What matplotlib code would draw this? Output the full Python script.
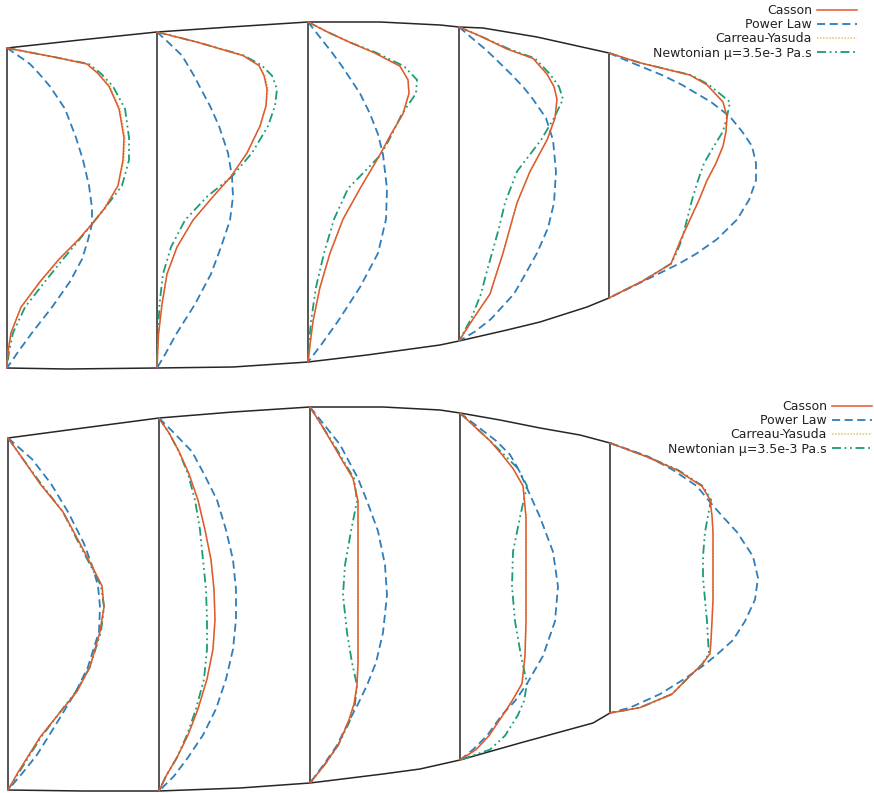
import matplotlib
matplotlib.use("Agg")
import matplotlib.pyplot as plt
import numpy as np

# ---------------- geometry of the two vessel panels (px-scale units, y down) ----
# upper panel
up_sections = [7, 157, 308, 459, 609]
up_top_x = [7, 80, 157, 230, 308, 380, 440, 459, 483, 537, 573, 609]
up_top_y = [48, 40, 32, 27, 22, 22, 25, 27, 28, 37, 45, 53]
up_bot_x = [7, 67, 157, 233, 308, 367, 440, 459, 507, 540, 587, 609]
up_bot_y = [368, 369, 368, 367, 362, 355, 345, 341, 330, 322, 307, 298]

# lower panel
lo_sections = [8, 159, 310, 460, 610]
lo_top_x = [8, 83, 159, 233, 310, 383, 440, 460, 500, 540, 580, 610]
lo_top_y = [438, 428, 418, 412, 407, 407, 410, 413, 420, 428, 435, 443]
lo_bot_x = [8, 83, 159, 240, 310, 383, 420, 460, 520, 593, 610]
lo_bot_y = [790, 791, 791, 788, 783, 774, 769, 760, 743, 723, 713]

# ---------------- velocity profiles: position along section (0 = top) ----------
up_s = [
    [0, 0.03, 0.05, 0.08, 0.12, 0.19, 0.28, 0.35, 0.43, 0.5, 0.55, 0.6, 0.66, 0.73, 0.81, 0.89, 0.95, 1],
    [0, 0.03, 0.07, 0.1, 0.13, 0.17, 0.22, 0.28, 0.36, 0.43, 0.49, 0.56, 0.64, 0.72, 0.81, 0.9, 0.96, 1],
    [0, 0.03, 0.06, 0.09, 0.13, 0.17, 0.21, 0.27, 0.33, 0.39, 0.49, 0.58, 0.68, 0.78, 0.88, 0.95, 1],
    [0, 0.03, 0.07, 0.1, 0.15, 0.19, 0.23, 0.29, 0.36, 0.46, 0.56, 0.64, 0.72, 0.8, 0.85, 0.93, 0.97, 1],
    [0, 0.04, 0.09, 0.13, 0.2, 0.26, 0.32, 0.38, 0.45, 0.52, 0.6, 0.68, 0.76, 0.82, 0.86, 0.93, 1],
]
up_casson = [
    [0, 50, 80, 91, 102, 112, 117, 116, 111, 98, 85, 71, 52, 33, 14, 4, 1, 0],
    [0, 40, 86, 102, 107, 110, 109, 103, 90, 74, 56, 36, 20, 10, 5, 1.5, 0.5, 0],
    [0, 20, 42, 66, 92, 100, 101, 95, 83, 72, 52, 35, 22, 12, 5, 2, 0],
    [0, 22, 48, 74, 88, 95, 98, 96, 88, 71, 58, 51, 44, 36, 31, 14, 6, 0],
    [0, 31, 81, 98, 114, 118, 117, 114, 107, 98, 90, 81, 72, 66, 62, 34, 0],
]
up_power = [
    [0, 14, 23, 32, 43, 58, 69, 76, 82, 85, 85, 81, 75, 63, 45, 25, 11, 0],
    [0, 11, 25, 31, 37, 44, 53, 62, 71, 75, 76, 73, 64, 54, 38, 19, 8, 0],
    [0, 8, 16, 24, 34, 43, 52, 62, 70, 75, 79, 78, 70, 52, 30, 13, 0],
    [0, 11, 26, 36, 52, 64, 74, 87, 94, 97, 95, 89, 78, 64, 55, 32, 16, 0],
    [0, 23, 53, 73, 102, 121, 133, 143, 147, 147, 140, 128, 108, 87, 70, 35, 0],
]
up_carreau = [
    [0, 50, 80, 92, 103, 113, 118, 117, 111, 97, 85, 71, 53, 34, 14, 4, 1, 0],
    [0, 40, 86, 102, 108, 111, 109, 103, 90, 74, 56, 36, 20, 10, 5, 1.5, 0.5, 0],
    [0, 20, 42, 66, 92, 100, 101, 95, 83, 72, 52, 35, 22, 12, 5, 2, 0],
    [0, 22, 48, 74, 88, 95, 98, 96, 88, 71, 58, 51, 44, 36, 31, 14, 6, 0],
    [0, 31, 81, 98, 114, 118, 117, 114, 107, 98, 90, 81, 72, 66, 62, 34, 0],
]
up_newton = [
    [0, 50, 82, 94, 106, 118, 122, 122, 115, 98, 85, 72, 56, 38, 18, 6, 2, 0],
    [0, 40, 87, 105, 115, 120, 118, 111, 95, 75, 50, 28, 14, 6, 2.5, 1, 0.3, 0],
    [0, 20, 42, 68, 96, 109, 108, 94, 84, 73, 40, 26, 16, 8, 3, 1, 0],
    [0, 22, 50, 76, 91, 100, 104, 95, 82, 58, 46, 40, 33, 26, 22, 12, 5, 0],
    [0, 31, 82, 100, 121, 118, 114, 105, 95, 89, 83, 78, 73, 67, 62, 34, 0],
]

lo_s = [
    [0, 0.06, 0.13, 0.21, 0.3, 0.37, 0.42, 0.48, 0.55, 0.65, 0.72, 0.79, 0.85, 0.9, 0.95, 1],
    [0, 0.04, 0.09, 0.15, 0.22, 0.3, 0.38, 0.46, 0.54, 0.62, 0.7, 0.78, 0.85, 0.91, 0.96, 1],
    [0, 0.05, 0.1, 0.15, 0.19, 0.25, 0.33, 0.42, 0.5, 0.6, 0.68, 0.74, 0.79, 0.84, 0.9, 0.95, 1],
    [0, 0.04, 0.08, 0.12, 0.16, 0.21, 0.3, 0.4, 0.5, 0.6, 0.7, 0.78, 0.83, 0.87, 0.93, 0.97, 1],
    [0, 0.05, 0.1, 0.16, 0.21, 0.27, 0.33, 0.42, 0.5, 0.58, 0.66, 0.73, 0.78, 0.82, 0.87, 0.93, 0.98, 1],
]
lo_casson = [
    [0, 15, 32, 55, 72, 85, 94, 96, 92, 82, 69, 49, 32, 21, 10, 0],
    [0, 10, 20, 30, 39, 46, 52, 55, 56, 54, 48, 39, 29, 18, 7, 0],
    [0, 12, 23, 34, 43, 48, 48, 48, 48, 48, 48, 47, 44, 38, 28, 15, 0],
    [0, 15, 30, 42, 53, 63, 66, 66, 66, 66, 65, 62, 52, 43, 29, 16, 0],
    [0, 36, 67, 92, 100, 102, 103, 103, 103, 103, 102, 101, 100, 92, 78, 62, 30, 0],
]
lo_power = [
    [0, 24, 43, 60, 76, 85, 90, 92, 91, 80, 68, 53, 40, 29, 15, 0],
    [0, 15, 33, 45, 58, 67, 74, 77, 77, 74, 67, 57, 44, 29, 15, 0],
    [0, 15, 30, 40, 48, 57, 68, 75, 77, 73, 66, 57, 48, 38, 27, 14, 0],
    [0, 18, 36, 50, 58, 66, 80, 93, 98, 95, 83, 67, 55, 42, 27, 13, 0],
    [0, 38, 63, 87, 98, 112, 127, 143, 148, 145, 135, 123, 108, 95, 76, 50, 20, 0],
]
lo_carreau = [
    [0, 15, 32, 55, 72, 85, 94, 96, 92, 82, 69, 49, 32, 21, 10, 0],
    [0, 10, 20, 30, 39, 46, 52, 55, 56, 54, 48, 39, 29, 18, 7, 0],
    [0, 12, 23, 34, 43, 48, 48, 48, 48, 48, 48, 47, 44, 38, 28, 15, 0],
    [0, 15, 30, 42, 53, 63, 66, 66, 66, 66, 65, 62, 52, 43, 29, 16, 0],
    [0, 36, 67, 92, 100, 102, 103, 103, 103, 103, 102, 101, 100, 92, 78, 62, 30, 0],
]
lo_newton = [
    [0, 15, 33, 55, 71, 84, 93, 96, 93, 82, 68, 49, 33, 22, 11, 0],
    [0, 10, 20, 29, 36, 41, 44, 47, 48, 48, 45, 37, 28, 18, 7, 0],
    [0, 12, 24, 35, 44, 47, 41, 35, 33, 37, 42, 47, 45, 39, 28, 15, 0],
    [0, 15, 30, 44, 58, 67, 60, 53, 52, 55, 61, 67, 64, 58, 45, 30, 0],
    [0, 37, 68, 93, 101, 98, 95, 93, 93, 95, 97, 98, 99, 92, 78, 62, 30, 0],
]

labels = ["Casson", "Power Law", "Carreau-Yasuda", "Newtonian \u03bc=3.5e-3 Pa.s"]

# ---------------- styles ----------------
WALL = "#262626"
styles = {
    "carreau": dict(color="#e2c36e", lw=1.1, ls=(0, (1, 1)), zorder=3),
    "newton": dict(color="#1b9c76", lw=1.3, ls=(0, (5, 2, 1, 2, 1, 2)), zorder=4),
    "power": dict(color="#2f7dbb", lw=1.3, ls=(0, (4.5, 2.5)), zorder=5),
    "casson": dict(color="#e0592e", lw=1.1, ls="-", zorder=6),
}

W, H = 874, 793
fig = plt.figure(figsize=(W / 100, H / 100), dpi=100)
fig.patch.set_facecolor("white")


def draw_panel(ax, sections, tx, ty, bx, by, s_list, models):
    ax.plot(tx, ty, color=WALL, lw=1.1, zorder=2, solid_capstyle="butt")
    ax.plot(bx, by, color=WALL, lw=1.1, zorder=2, solid_capstyle="butt")
    handles = {}
    for i, xs in enumerate(sections):
        yt = np.interp(xs, tx, ty)
        yb = np.interp(xs, bx, by)
        ax.plot([xs, xs], [yt, yb], color=WALL, lw=1.1, zorder=2)
        s = np.asarray(s_list[i], dtype=float)
        y = yt + s * (yb - yt)
        for key, vals in models.items():
            u = np.asarray(vals[i], dtype=float)
            (h,) = ax.plot(xs + u, y, **styles[key])
            handles[key] = h
    return handles


def finish(ax, ylo, yhi):
    ax.set_xlim(0, W)
    ax.set_ylim(yhi, ylo)
    ax.axis("off")


ax_top = fig.add_axes([0, 1 - 396 / H, 1, 396 / H])
ax_bot = fig.add_axes([0, 0, 1, 397 / H])

order = ["casson", "power", "carreau", "newton"]

h_top = draw_panel(ax_top, up_sections, up_top_x, up_top_y, up_bot_x, up_bot_y, up_s,
                   {"carreau": up_carreau, "newton": up_newton,
                    "power": up_power, "casson": up_casson})
finish(ax_top, 0, 396)

h_bot = draw_panel(ax_bot, lo_sections, lo_top_x, lo_top_y, lo_bot_x, lo_bot_y, lo_s,
                   {"carreau": lo_carreau, "newton": lo_newton,
                    "power": lo_power, "casson": lo_casson})
finish(ax_bot, 396, H)

legend_kw = dict(frameon=False, markerfirst=False, fontsize=9, handlelength=3.2,
                 handletextpad=0.4, labelspacing=0.1, borderpad=0, borderaxespad=0,
                 loc="upper right", labelcolor="#222222")
fig.legend([h_top[k] for k in order], labels,
           bbox_to_anchor=(857 / W, 1 - 4 / H), **legend_kw)
fig.legend([h_bot[k] for k in order], labels,
           bbox_to_anchor=(872 / W, 1 - 400 / H), **legend_kw)

fig.savefig("out.png", dpi=100, facecolor="white")
